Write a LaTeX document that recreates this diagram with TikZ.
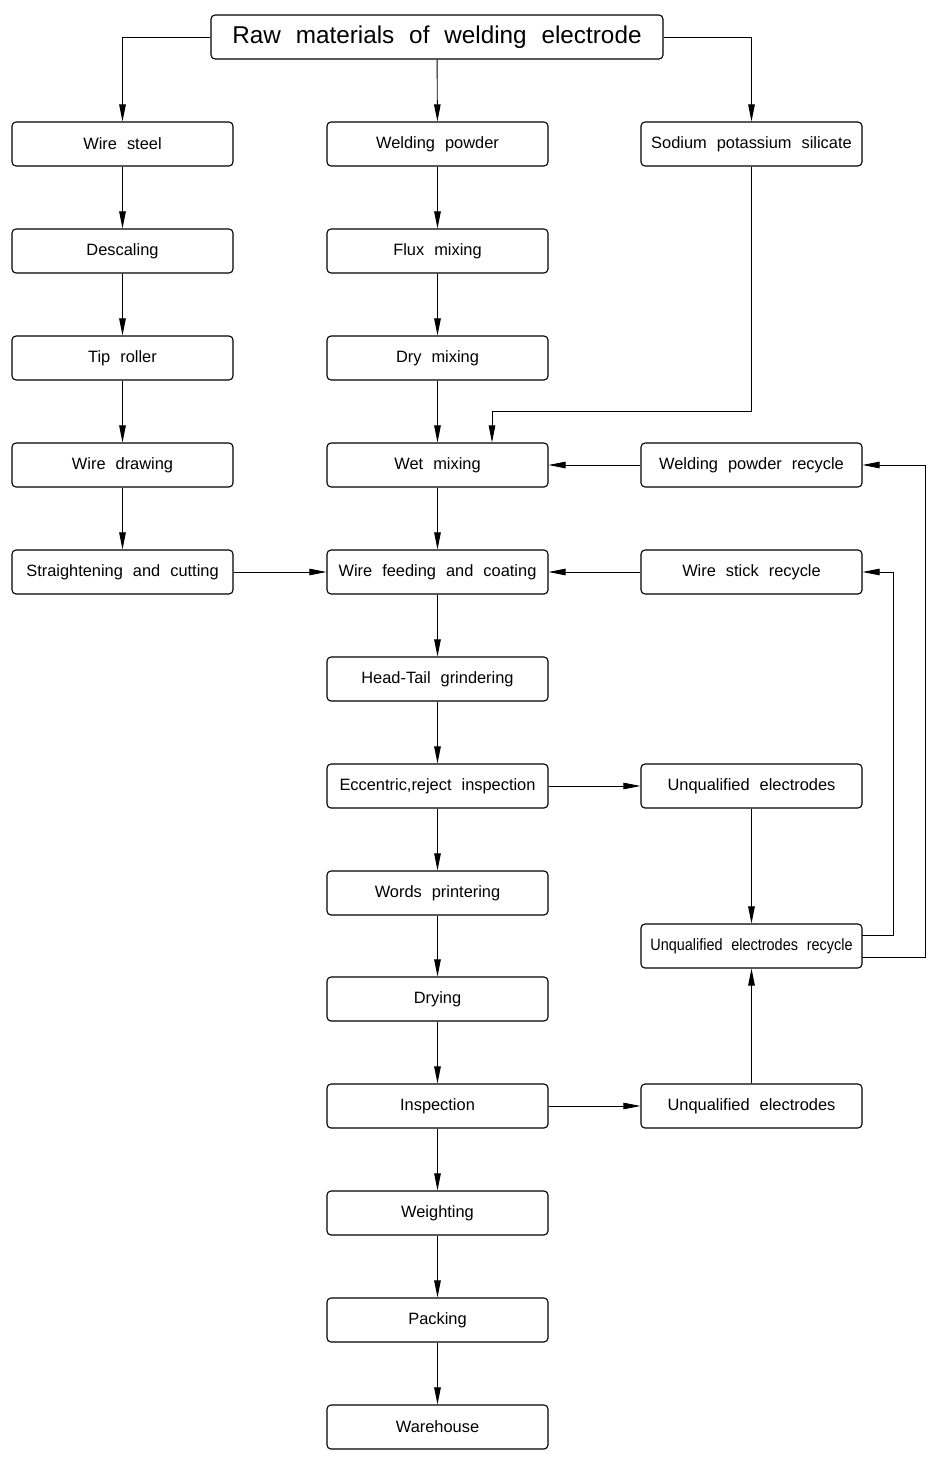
\documentclass[tikz,border=0pt]{standalone}
\usepackage{fontspec}
\setmainfont[WordSpace=2.2]{Liberation Sans}
\usetikzlibrary{arrows.meta}
\begin{document}
\begin{tikzpicture}[x=1pt,y=-1pt,
  box/.style={draw, rounded corners=4pt, line width=1.1pt, minimum width=221pt, minimum height=44pt, inner sep=0pt, font=\fontsize{16.4}{19}\selectfont},
  conn/.style={line width=0.9pt, -{Triangle[length=17pt,width=6.5pt]}},
  plain/.style={line width=0.9pt}]
\useasboundingbox (0,0) rectangle (940,1462);
\fill[white] (0,0) rectangle (940,1462);
\node[box, minimum width=452pt, font=\fontsize{24.3}{28}\selectfont] (raw) at (437,37) {Raw materials of welding electrode};
% left column
\node[box] (ws) at (122.5,144) {Wire steel};
\node[box] (desc) at (122.5,251) {Descaling};
\node[box] (tip) at (122.5,358) {Tip roller};
\node[box] (wd) at (122.5,465) {Wire drawing};
\node[box] (sc) at (122.5,572) {Straightening and cutting};
% middle column
\node[box] (wp) at (437.5,144) {Welding powder};
\node[box] (fm) at (437.5,251) {Flux mixing};
\node[box] (dm) at (437.5,358) {Dry mixing};
\node[box] (wm) at (437.5,465) {Wet mixing};
\node[box] (wf) at (437.5,572) {Wire feeding and coating};
\node[box] (ht) at (437.5,679) {Head-Tail grindering};
\node[box] (ecc) at (437.5,786) {Eccentric,reject inspection};
\node[box] (words) at (437.5,893) {Words printering};
\node[box] (dry) at (437.5,999) {Drying};
\node[box] (insp) at (437.5,1106) {Inspection};
\node[box] (wt) at (437.5,1213) {Weighting};
\node[box] (pack) at (437.5,1320) {Packing};
\node[box] (wh) at (437.5,1427) {Warehouse};
% right column
\node[box] (sps) at (751.5,144) {Sodium potassium silicate};
\node[box] (wpr) at (751.5,465) {Welding powder recycle};
\node[box] (wsr) at (751.5,572) {Wire stick recycle};
\node[box] (ue1) at (751.5,786) {Unqualified electrodes};
\node[box] (uer) at (751.5,946) {\scalebox{0.88}[1]{\fontsize{16.4}{19}\selectfont Unqualified electrodes recycle}};
\node[box] (ue2) at (751.5,1106) {Unqualified electrodes};
% top connectors
\draw[conn] (raw.west) -| (ws.north);
\draw[conn] (raw.east) -| (sps.north);
\draw[conn] (raw) -- (wp);
% left chain
\draw[conn] (ws) -- (desc);
\draw[conn] (desc) -- (tip);
\draw[conn] (tip) -- (wd);
\draw[conn] (wd) -- (sc);
% middle chain
\draw[conn] (wp) -- (fm);
\draw[conn] (fm) -- (dm);
\draw[conn] (dm) -- (wm);
\draw[conn] (wm) -- (wf);
\draw[conn] (wf) -- (ht);
\draw[conn] (ht) -- (ecc);
\draw[conn] (ecc) -- (words);
\draw[conn] (words) -- (dry);
\draw[conn] (dry) -- (insp);
\draw[conn] (insp) -- (wt);
\draw[conn] (wt) -- (pack);
\draw[conn] (pack) -- (wh);
% cross connectors
\coordinate (k1) at (751.5,411);
\coordinate (k2) at (492,411);
\draw[conn] (sps.south) -- (k1) -- (k2) -- (k2 |- wm.north);
\draw[conn] (sc) -- (wf);
\draw[conn] (wpr) -- (wm);
\draw[conn] (wsr) -- (wf);
\draw[conn] (ecc) -- (ue1);
\draw[conn] (insp) -- (ue2);
\draw[conn] (ue1) -- (uer);
\draw[conn] (ue2) -- (uer);
% recycle loops
\coordinate (r1) at (862,935);
\coordinate (r2) at (862,957);
\draw[conn] (r1) -- (893,935) -- (893,572) -- (wsr.east);
\draw[conn] (r2) -- (925,957) -- (925,465) -- (wpr.east);
\end{tikzpicture}
\end{document}
